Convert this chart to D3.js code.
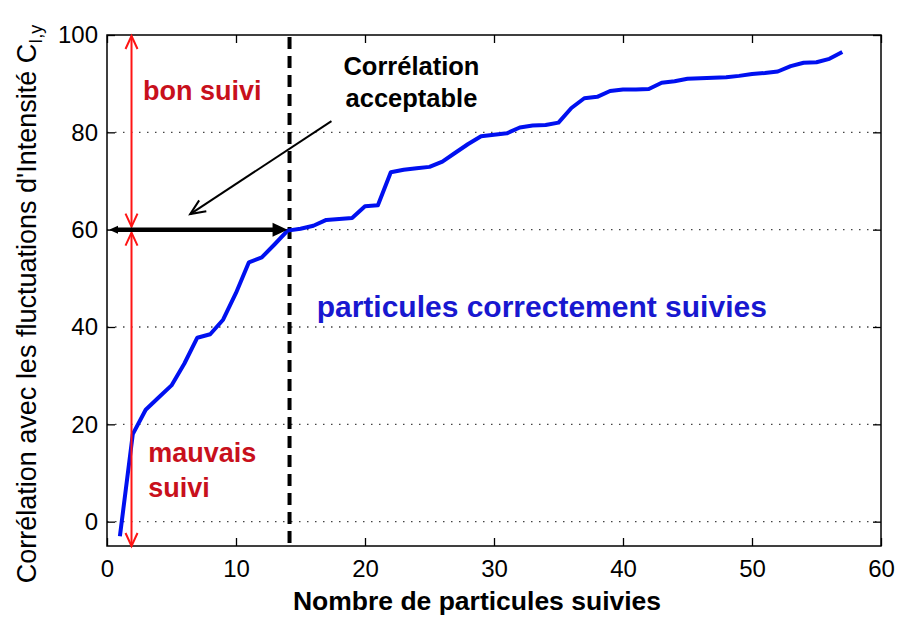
<!DOCTYPE html>
<html>
<head>
<meta charset="utf-8">
<script src="https://cdn.jsdelivr.net/npm/d3@7"></script>
<style>
  body { margin: 0; background: #fff; }
  svg { display: block; }
  text { font-family: "Liberation Sans", Arial, Helvetica, sans-serif; }
</style>
</head>
<body>
<svg id="chart" width="897" height="617"></svg>
<script>
// Number of tracked particles (x) and correlation with intensity fluctuations (y, %)
const particleCounts = d3.range(1, 58);
const correlationValues = [
  -3, 18, 23, 25.5, 28, 32.5, 37.8, 38.5, 41.5, 47,
  53.3, 54.3, 57, 59.8, 60.2, 60.8, 62, 62.2, 62.4, 64.8,
  65, 71.8, 72.3, 72.6, 72.9, 74, 75.8, 77.6, 79.2, 79.5,
  79.8, 81, 81.4, 81.5, 82, 85, 87, 87.3, 88.5, 88.8,
  88.8, 88.9, 90.2, 90.5, 91, 91.1, 91.2, 91.3, 91.6, 92,
  92.2, 92.5, 93.6, 94.3, 94.4, 95.1, 96.5
];
const xTickValues = [0, 10, 20, 30, 40, 50, 60];
const yTickValues = [0, 20, 40, 60, 80, 100];
const gridValues = [0, 20, 40, 60, 80];

// Acceptable-correlation threshold and the particle count where it is reached
const acceptableLevel = 60;
const acceptableCount = 14.15;

const svg = d3.select("#chart");
const margin = { left: 107, top: 35, right: 16, bottom: 71 };
const W = 897, H = 617;
const innerW = W - margin.left - margin.right;
const innerH = H - margin.top - margin.bottom;

const x = d3.scaleLinear().domain([0, 60]).range([margin.left, margin.left + innerW]);
const y = d3.scaleLinear().domain([-5, 100]).range([margin.top + innerH, margin.top]);

const tickFont = 24;

// dotted horizontal grid
svg.append("g")
  .selectAll("line")
  .data(gridValues)
  .join("line")
  .attr("x1", x(0)).attr("x2", x(60))
  .attr("y1", d => y(d)).attr("y2", d => y(d))
  .attr("stroke", "#444")
  .attr("stroke-width", 1.3)
  .attr("stroke-dasharray", "1.5,6.5");

// axes with inward ticks on all four sides
const styleAxis = g => {
  g.select(".domain").remove();
  g.selectAll(".tick line").attr("stroke", "#000").attr("stroke-width", 1.3);
  g.selectAll(".tick text").attr("fill", "#000").style("font-size", tickFont + "px");
};
svg.append("g")
  .attr("transform", `translate(0,${y(-5)})`)
  .call(d3.axisBottom(x).tickValues(xTickValues).tickSize(-8).tickPadding(14).tickFormat(d3.format("d")))
  .call(styleAxis);
svg.append("g")
  .attr("transform", `translate(0,${y(100)})`)
  .call(d3.axisTop(x).tickValues(xTickValues).tickSize(-8).tickFormat(""))
  .call(styleAxis);
svg.append("g")
  .attr("transform", `translate(${x(0)},0)`)
  .call(d3.axisLeft(y).tickValues(yTickValues).tickSize(-8).tickPadding(9).tickFormat(d3.format("d")))
  .call(styleAxis);
svg.append("g")
  .attr("transform", `translate(${x(60)},0)`)
  .call(d3.axisRight(y).tickValues(yTickValues).tickSize(-8).tickFormat(""))
  .call(styleAxis);

// plot box
svg.append("rect")
  .attr("x", x(0)).attr("y", y(100))
  .attr("width", x(60) - x(0)).attr("height", y(-5) - y(100))
  .attr("fill", "none").attr("stroke", "#000").attr("stroke-width", 1.5);

// vertical dashed threshold line
svg.append("line")
  .attr("x1", x(acceptableCount)).attr("x2", x(acceptableCount))
  .attr("y1", y(100) + 2).attr("y2", y(-5))
  .attr("stroke", "#000").attr("stroke-width", 4)
  .attr("stroke-dasharray", "12,7");

// correlation curve
const line = d3.line().x((d, i) => x(particleCounts[i])).y(d => y(d));
svg.append("path")
  .datum(correlationValues)
  .attr("d", line)
  .attr("fill", "none")
  .attr("stroke", "#0010f0")
  .attr("stroke-width", 4)
  .attr("stroke-linejoin", "round");

// open V arrowhead
function vHead(g, tx, ty, angle, len, half, color, width) {
  const ax = Math.cos(angle), ay = Math.sin(angle);
  const bx = tx - ax * len, by = ty - ay * len;
  const px = -ay * half, py = ax * half;
  g.append("polyline")
    .attr("points", `${bx + px},${by + py} ${tx},${ty} ${bx - px},${by - py}`)
    .attr("fill", "none").attr("stroke", color).attr("stroke-width", width)
    .attr("stroke-linejoin", "miter");
}

// red double arrows: good / bad tracking ranges
const red = "#ff1414";
const ann = svg.append("g");
const redX = x(1.9);
[[100, acceptableLevel], [acceptableLevel, -5]].forEach(([top, bottom]) => {
  const y1 = y(top) + (top === 100 ? 1 : 3);
  const y2 = y(bottom) - (bottom === -5 ? 0 : 3);
  ann.append("line")
    .attr("x1", redX).attr("x2", redX).attr("y1", y1).attr("y2", y2)
    .attr("stroke", red).attr("stroke-width", 2);
  vHead(ann, redX, y1, -Math.PI / 2, 13, 6, red, 2);
  vHead(ann, redX, y2, Math.PI / 2, 13, 6, red, 2);
});

// black horizontal arrow at the acceptable level
const hy = y(acceptableLevel);
const hx1 = x(0) + 2, hx2 = x(acceptableCount) - 2;
ann.append("line")
  .attr("x1", hx1 + 6).attr("x2", hx2 - 12).attr("y1", hy).attr("y2", hy)
  .attr("stroke", "#000").attr("stroke-width", 4.5);
ann.append("path")
  .attr("d", `M${hx2},${hy} L${hx2 - 15},${hy - 7} L${hx2 - 15},${hy + 7} Z`)
  .attr("fill", "#000");
ann.append("path")
  .attr("d", `M${hx1},${hy} L${hx1 + 9},${hy - 4} L${hx1 + 9},${hy + 4} Z`)
  .attr("fill", "#000");

// thin diagonal arrow from the caption
const dx1 = x(17.4), dy1 = y(82.3), dx2 = x(6.45), dy2 = y(63.2);
ann.append("line")
  .attr("x1", dx1).attr("y1", dy1).attr("x2", dx2).attr("y2", dy2)
  .attr("stroke", "#000").attr("stroke-width", 2);
vHead(ann, dx2, dy2, Math.atan2(dy2 - dy1, dx2 - dx1), 15, 6.5, "#000", 2);

// annotation texts
const labels = svg.append("g").attr("font-weight", "bold");
labels.append("text").attr("x", x(2.8)).attr("y", y(86.6))
  .attr("fill", "#c8101c").style("font-size", "27px").text("bon suivi");
labels.append("text").attr("x", x(3.2)).attr("y", y(12.3))
  .attr("fill", "#c8101c").style("font-size", "27px").text("mauvais");
labels.append("text").attr("x", x(3.2)).attr("y", y(5.1))
  .attr("fill", "#c8101c").style("font-size", "27px").text("suivi");
labels.append("text").attr("x", x(23.6)).attr("y", y(91.8))
  .attr("text-anchor", "middle").attr("fill", "#000").style("font-size", "25.5px").text("Corrélation");
labels.append("text").attr("x", x(23.6)).attr("y", y(85.3))
  .attr("text-anchor", "middle").attr("fill", "#000").style("font-size", "25.5px").text("acceptable");
labels.append("text").attr("x", x(16.25)).attr("y", y(42.1))
  .attr("fill", "#1818d0").style("font-size", "30px").text("particules correctement suivies");

// axis titles
svg.append("text")
  .attr("x", 477).attr("y", 610)
  .attr("text-anchor", "middle")
  .attr("font-weight", "bold")
  .style("font-size", "26.5px")
  .attr("fill", "#000")
  .text("Nombre de particules suivies");

const yTitle = svg.append("text")
  .attr("transform", "translate(36,304) rotate(-90)")
  .attr("text-anchor", "middle")
  .style("font-size", "27px")
  .attr("fill", "#000");
yTitle.append("tspan").text("Corrélation avec les fluctuations d'Intensité C");
yTitle.append("tspan").attr("dy", 6).style("font-size", "18px").text("I,y");
</script>
</body>
</html>
